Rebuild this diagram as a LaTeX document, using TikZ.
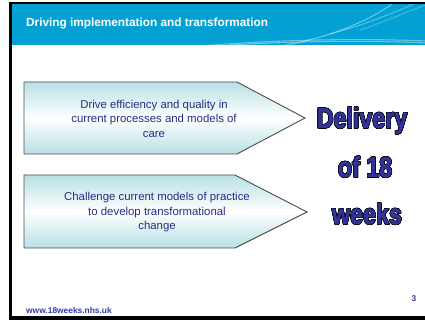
\documentclass[tikz,border=0pt]{standalone}
\usepackage{fontspec}
\setmainfont{Liberation Sans}
\newfontfamily\heavyfont[BoldFeatures={FakeBold=1.6}]{Liberation Sans}
\usepackage{contour}
\contourlength{0.45pt}
\definecolor{hdrblue}{HTML}{03A0D4}
\definecolor{navy}{HTML}{2A2A86}
\definecolor{dblue}{HTML}{31339A}
\definecolor{foot}{HTML}{3838AE}
\definecolor{teal}{HTML}{B8E0E5}
\begin{document}
\begin{tikzpicture}[x=1pt,y=-1pt,
  arrowbox/.style={draw=black!70, line width=0.9pt, top color=teal, bottom color=teal, middle color=white},
  bodytext/.style={align=center, text=navy, inner sep=0pt, font=\fontsize{11.4}{14.5}\selectfont},
  bigtext/.style={anchor=base, inner sep=0pt, font=\heavyfont\bfseries\fontsize{24}{28}\selectfont},
  swoosh/.style={draw=white, opacity=0.4, line width=1.1pt}]
\useasboundingbox (0,0) rectangle (425,320);
\fill[white] (0,0) rectangle (425,320);
% header
\fill[hdrblue] (12,4) rectangle (425,45);
\begin{scope}
  \clip (12,4) rectangle (425,45);
  \draw[swoosh] (200,46) .. controls (300,38) and (380,39) .. (426,41);
  \draw[swoosh] (230,45) .. controls (320,40) and (380,41) .. (426,43);
  \draw[swoosh] (280,46) .. controls (330,38) and (370,20) .. (392,4);
  \draw[swoosh, opacity=0.3] (330,34) .. controls (365,25) and (395,12) .. (414,4);
  \draw[swoosh, opacity=0.25] (360,30) .. controls (390,20) and (410,10) .. (426,5);
\end{scope}
% frame
\fill[black] (9,2) rectangle (425,4);
\fill[black] (9,2) rectangle (12,320);
\fill[black] (9,316) rectangle (425,320);
% title
\node[anchor=base west, inner sep=0pt, text=white, font=\bfseries\fontsize{11.8}{14}\selectfont] (title) at (26,27) {Driving implementation and transformation};
% arrows
\draw[arrowbox] (24,82) -- (237,82) -- (305,118) -- (237,154) -- (24,154) -- cycle;
\draw[arrowbox] (24,175) -- (235,175) -- (307,212) -- (235,248) -- (24,248) -- cycle;
\node[bodytext] (t1) at (154,118.5) {Drive efficiency and quality in\\current processes and models of\\care};
\node[bodytext] (t2) at (157,212.5) {Challenge current models of practice\\to develop transformational\\change};
% big text
\node[bigtext] (d1) at (362,128) {\scalebox{0.97}[1.2]{\contour{black}{\textcolor{dblue}{Delivery}}}};
\node[bigtext] (d2) at (365,177) {\scalebox{0.97}[1.2]{\contour{black}{\textcolor{dblue}{of 18}}}};
\node[bigtext] (d3) at (367,224) {\scalebox{0.97}[1.2]{\contour{black}{\textcolor{dblue}{weeks}}}};
% footer
\node[anchor=base west, inner sep=0pt, text=foot, font=\bfseries\fontsize{8.4}{10}\selectfont] (url) at (26,313) {www.18weeks.nhs.uk};
\node[anchor=base west, inner sep=0pt, text=foot, font=\bfseries\fontsize{8.4}{10}\selectfont] (page) at (411.5,301) {3};
\end{tikzpicture}
\end{document}
